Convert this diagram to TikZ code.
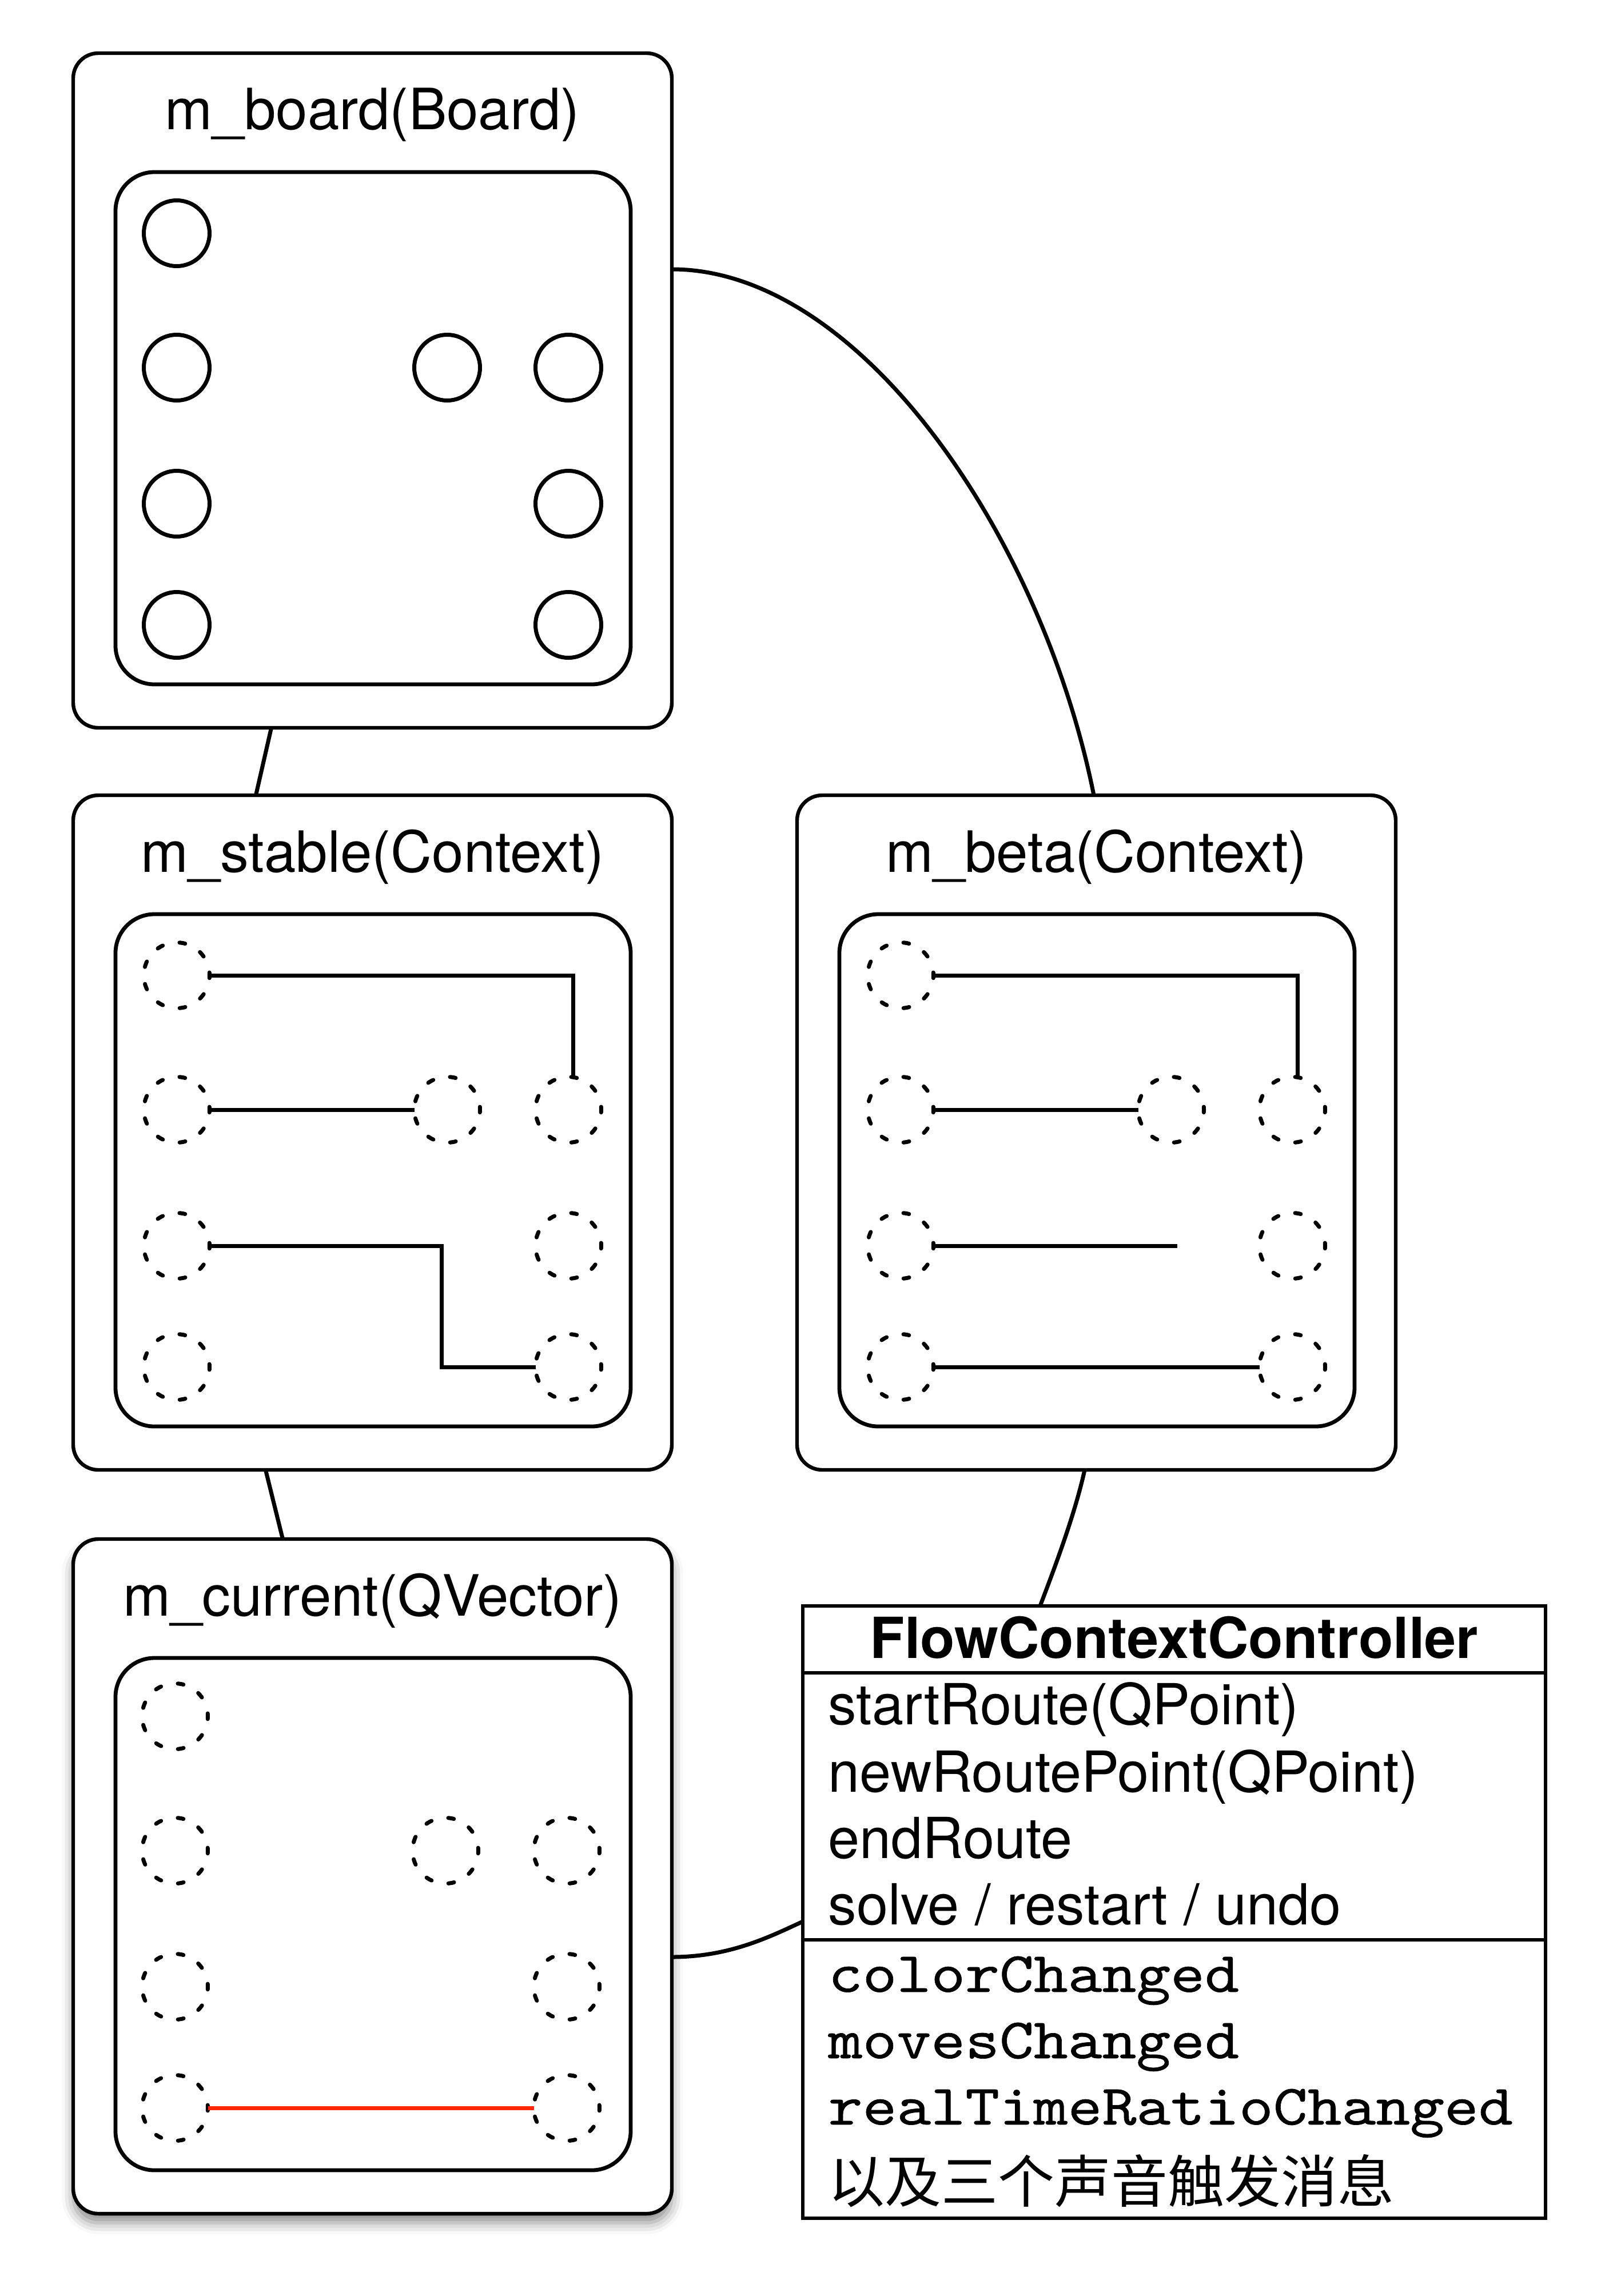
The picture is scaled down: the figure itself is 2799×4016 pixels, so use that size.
\documentclass[tikz,border=0pt]{standalone}
\usepackage{fontspec}
\setmainfont{TeX Gyre Heros}
\newfontfamily\cjkfont{Noto Sans CJK SC}
\newfontfamily\codefont{lmmono10-regular.otf}[FakeStretch=1.14,FakeBold=0.7]
\usetikzlibrary{calc,shadows.blur}
\definecolor{routered}{RGB}{255,38,0}
\newcommand{\holegrid}[4]{%
  \foreach \gc/\gr/\gx/\gy in {1/1/181/315,1/2/181/550,2/2/654/550,3/2/866/550,1/3/181/788,3/3/866/788,1/4/181/1000,3/4/866/1000}
    {\node[#4] (#1\gc\gr) at ({#2+\gx},{#3+\gy}) {};}}
\begin{document}
\begin{tikzpicture}[x=0.25pt,y=-0.25pt,
  outerbox/.style={draw, line width=1.6pt, rounded corners=11pt, minimum width=261.75pt, minimum height=295pt, inner sep=0pt, outer sep=0pt, fill=white},
  innerbox/.style={draw, line width=1.7pt, rounded corners=17pt, minimum width=225.25pt, minimum height=224pt, inner sep=0pt, outer sep=0pt},
  boxtitle/.style={anchor=base, inner sep=0pt, font=\fontsize{24.9}{30}\selectfont},
  hole/.style={circle, draw, line width=1.75pt, minimum size=28.75pt, inner sep=0pt, outer sep=0pt},
  slot/.style={circle, draw, line width=1.75pt, line cap=round, minimum size=28.75pt, inner sep=0pt, outer sep=0pt, dash pattern=on 2.5pt off 7.54pt, dash phase=1.25pt},
  route/.style={line width=1.75pt},
  link/.style={line width=1.75pt},
  method/.style={anchor=base west, inner sep=0pt, font=\fontsize{24.75}{30}\selectfont},
  signal/.style={anchor=base west, inner sep=0pt, font=\codefont\fontsize{25}{30}\selectfont},
]
\useasboundingbox (0,0) rectangle (2799,4016);
% outer boxes
\node[outerbox] (board) at (651.5,683) {};
\node[outerbox] (stable) at (651.5,1981) {};
\node[outerbox] (beta) at (1917.5,1981) {};
\node[outerbox, blur shadow={shadow xshift=0pt, shadow yshift=-4pt, shadow blur radius=5pt, shadow opacity=45}] (current) at (651.5,3282) {};
% inner boxes
\node[innerbox] (boardin) at (652.5,749) {};
\node[innerbox] (stablein) at (652.5,2047) {};
\node[innerbox] (betain) at (1918.5,2047) {};
\node[innerbox] (currentin) at (652.5,3348) {};
% titles
\node[boxtitle] (boardtitle) at (651.5,226) {m\_board(Board)};
\node[boxtitle] (stabletitle) at (651.5,1525) {m\_stable(Context)};
\node[boxtitle] (betatitle) at (1917.5,1525) {m\_beta(Context)};
\node[boxtitle] (currenttitle) at (651.5,2826) {m\_current(QVector)};
% circles
\holegrid{b}{128}{93}{hole}
\holegrid{s}{128}{1391}{slot}
\holegrid{e}{1394}{1391}{slot}
\holegrid{c}{125}{2687}{slot}
% routes: stable
\draw[route] (s11.east) -| ($(s32.north)+(8,0)$);
\draw[route] (s12.east) -- (s22.west);
\draw[route] (s13.east) -- ++(406,0) |- (s34.west);
% routes: beta
\draw[route] (e11.east) -| ($(e32.north)+(9,0)$);
\draw[route] (e12.east) -- (e22.west);
\draw[route] (e13.east) -- ++(426,0) coordinate (e3end);
\draw[route] (e14.east) -- (e34.west);
% route: current
\draw[route, routered] (c14.east) -- (c34.west);
% controller
\node[draw, line width=1.5pt, minimum width=324.75pt, minimum height=267.75pt, inner sep=0pt, outer sep=0pt] (fcc) at (2053.5,3344.5) {};
\draw[line width=1.5pt] ($(fcc.north west)+(0,117)$) -- ($(fcc.north east)+(0,117)$);
\draw[line width=1.5pt] ($(fcc.north west)+(0,584)$) -- ($(fcc.north east)+(0,584)$);
\node[anchor=base, inner sep=0pt, font=\fontsize{24.75}{30}\selectfont\bfseries] (fcctitle) at (2053.5,2900) {FlowContextController};
\node[method] (m1) at (1448,3016) {startRoute(QPoint)};
\node[method] (m2) at (1448,3134) {newRoutePoint(QPoint)};
\node[method] (m3) at (1448,3250) {endRoute};
\node[method] (m4) at (1448,3366) {solve / restart / undo};
\node[signal] (g1) at (1448,3484) {colorChanged};
\node[signal] (g2) at (1448,3600) {movesChanged};
\node[signal] (g3) at (1448,3716) {realTimeRatioChanged};
\node[method, font=\cjkfont\fontsize{24.75}{30}\selectfont] (g4) at (1448,3852) {以及三个声音触发消息};
% connectors
\draw[link] ($(board.south)+(-177,0)$) -- ($(stable.north)+(-204,0)$);
\draw[link] ($(stable.south)+(-187,0)$) -- ($(current.north)+(-157,0)$);
\draw[link] ($(board.east)+(0,-212)$) .. controls +(330,0) and +(-90,-450) .. ($(beta.north)+(-4.5,0)$);
\draw[link] ($(beta.south)+(-20.5,0)$) .. controls +(-17,77) and +(26,-68) .. ($(fcc.north)+(-234.5,0)$);
\draw[link] ($(current.east)+(0,141)$) .. controls +(103,0) and +(-55,25) .. ($(fcc.west)+(0,16.5)$);
\end{tikzpicture}
\end{document}
